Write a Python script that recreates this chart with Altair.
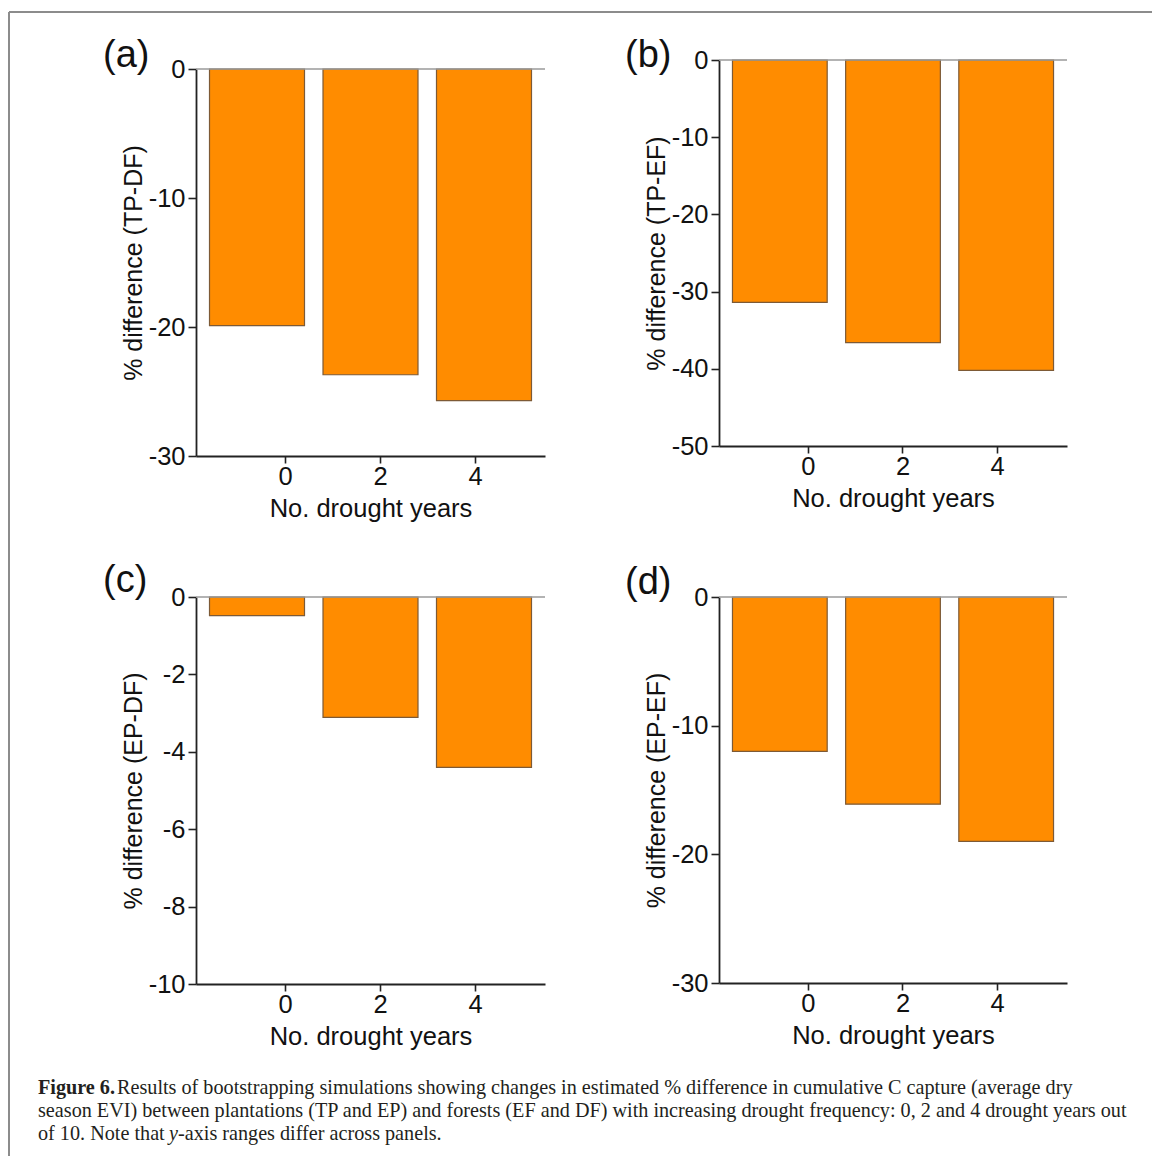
import altair as alt
import pandas as pd

# ---------------- data ----------------
years = [0, 2, 4]
tp_df = [-19.9, -23.7, -25.7]
tp_ef = [-31.4, -36.6, -40.2]
ep_df = [-0.48, -3.11, -4.40]
ep_ef = [-12.0, -16.1, -19.0]

ticks_a = [-30, -20, -10, 0]
ticks_b = [-50, -40, -30, -20, -10, 0]
ticks_c = [-10, -8, -6, -4, -2, 0]
ticks_d = [-30, -20, -10, 0]

titles = ["% difference (TP-DF)", "% difference (TP-EF)",
          "% difference (EP-DF)", "% difference (EP-EF)"]
letters = ["(a)", "(b)", "(c)", "(d)"]
x_title = "No. drought years"

cap_bold = "Figure 6."
cap_line1 = ("Results of bootstrapping simulations showing changes in estimated % difference "
             "in cumulative C capture (average dry")
cap_line2 = ("season EVI) between plantations (TP and EP) and forests (EF and DF) with increasing "
             "drought frequency: 0, 2 and 4 drought years out")
cap_line3a = "of 10. Note that"
cap_line3i = "y"
cap_line3b = "-axis ranges differ across panels."

SANS = "Liberation Sans"
SERIF = "Liberation Serif"
ORANGE = "#FF8C00"
CAP_SIZE = 20.2


def panel(values, ticks, ytitle, letter, width, height, top, lab_x, lab_y):
    df = pd.DataFrame({"years": years, "value": values})
    yscale = alt.Scale(domain=[ticks[0], 0], nice=False, range=[height, top])
    bars = alt.Chart(df).mark_bar(
        fill=ORANGE, stroke="#7d5a36", strokeWidth=1.2
    ).encode(
        x=alt.X("years:O", scale=alt.Scale(type="band", paddingInner=0.163, paddingOuter=0.119),
                axis=None),
        y=alt.Y("value:Q", scale=yscale,
                axis=alt.Axis(values=ticks, title=ytitle, grid=False,
                              labelExpr="toString(datum.value)",
                              labelFont=SANS, labelFontSize=25.5, labelColor="#111",
                              labelPadding=3, tickSize=8, tickColor="#222", tickWidth=1.6,
                              domainColor="#222", domainWidth=1.8,
                              titleFont=SANS, titleFontSize=25, titleFontWeight="normal",
                              titleColor="#111", titleX=-50, titleY=(height + top) / 2)),
        y2=alt.datum(0),
    )
    zero = alt.Chart(pd.DataFrame({"z": [0]})).mark_rule(
        color="#9a9a9a", strokeWidth=1.6
    ).encode(y=alt.datum(0))
    xaxis = alt.Chart(df).mark_point(opacity=0).encode(
        x=alt.X("years:Q", scale=alt.Scale(domain=[-1.874, 5.474], nice=False, zero=False),
                axis=alt.Axis(values=years, title=x_title, grid=False, format="d",
                              labelFont=SANS, labelFontSize=25.5, labelColor="#111",
                              labelPadding=1, tickSize=7, tickColor="#222", tickWidth=1.6,
                              domainColor="#222", domainWidth=1.8,
                              titleFont=SANS, titleFontSize=25.5, titleFontWeight="normal",
                              titleColor="#111", titleX=width / 2, titleY=40))
    )
    label = alt.Chart(pd.DataFrame({"t": [letter]})).mark_text(
        align="left", baseline="alphabetic", font=SANS, fontSize=38, color="#111"
    ).encode(text="t:N", x=alt.value(lab_x), y=alt.value(lab_y))
    return alt.layer(bars, zero, xaxis, label).resolve_scale(x="independent").properties(
        width=width, height=height)


pa = panel(tp_df, ticks_a, titles[0], letters[0], 349, 396, 9, -93, 7)
pb = panel(tp_ef, ticks_b, titles[1], letters[1], 348, 386, 0, -94, 7)
pc = panel(ep_df, ticks_c, titles[2], letters[2], 349, 387, 0, -93, -5)
pd_ = panel(ep_ef, ticks_d, titles[3], letters[3], 348, 386, 0, -94, -3)

one = pd.DataFrame({"k": [0]})


def txt(s, x, y, weight="normal", style="normal"):
    return alt.Chart(pd.DataFrame({"t": [s]})).mark_text(
        align="left", baseline="alphabetic", font=SERIF, fontSize=CAP_SIZE,
        fontWeight=weight, fontStyle=style, color="#231f20"
    ).encode(text="t:N", x=alt.value(x), y=alt.value(y))


border_top = alt.Chart(one).mark_rule(color="#8c8c8c", strokeWidth=2).encode(
    x=alt.value(-187), x2=alt.value(956), y=alt.value(-1113))
border_left = alt.Chart(one).mark_rule(color="#8c8c8c", strokeWidth=2).encode(
    x=alt.value(-187), y=alt.value(-1113), y2=alt.value(31))

caption = alt.layer(
    border_top, border_left,
    txt(cap_bold, -158, -31, weight="bold"),
    txt(cap_line1, -79, -31),
    txt(cap_line2, -158, -8),
    txt(cap_line3a, -158, 15),
    txt(cap_line3i, -27, 15, style="italic"),
    txt(cap_line3b, -18, 15),
).properties(width=349, height=1)

chart = alt.concat(
    pa, pb, pc, pd_, caption, columns=2,
    spacing={"row": 141, "column": 174}, bounds="flush"
).properties(
    padding={"left": 8, "top": 11, "right": 0, "bottom": 0}
).configure_view(strokeWidth=0)

chart.save("out.html", embed_options={"renderer": "svg", "actions": False})
